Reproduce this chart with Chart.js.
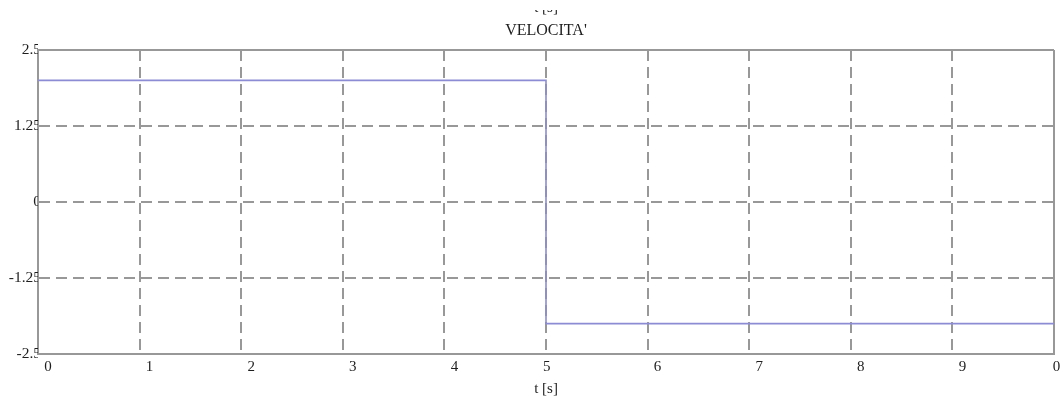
<!DOCTYPE html>
<html>
<head>
<meta charset="utf-8">
<script src="https://cdn.jsdelivr.net/npm/chart.js@4/dist/chart.umd.min.js"></script>
<style>
  html, body { margin: 0; padding: 0; background: #fff; }
  #wrap { width: 1064px; height: 401px; }
</style>
</head>
<body>
<div id="wrap"><canvas id="c" width="1064" height="401"></canvas></div>
<script>
// Velocity profile: constant +2 m/s, then reversal to -2 m/s at t = 5 s
const timeS = [0, 5, 5, 10];
const velocity = [2, 2, -2, -2];

const xTicks = [0, 1, 2, 3, 4, 5, 6, 7, 8, 9, 10];
const xTickText = ['0', '1', '2', '3', '4', '5     ', '6', '7', '8', '9', '0    '];
const yTicks = [-2.5, -1.25, 0, 1.25, 2.5];
const yTickText = ['-2.5', '-1.25', '0', '1.25', '2.5'];

const serif = 'Liberation Serif';
const gridGray = 'rgb(152,152,152)';
const textDark = '#1e1e1e';

// Tail end of the neighbouring plot's axis caption, cut by the page edge
const upperCaption = {
  id: 'upperCaption',
  afterDraw(chart) {
    const { ctx, chartArea } = chart;
    ctx.save();
    ctx.beginPath();
    ctx.rect(0, 10, chart.width, 8);
    ctx.clip();
    ctx.font = '15px "' + serif + '"';
    ctx.fillStyle = textDark;
    ctx.textAlign = 'center';
    ctx.textBaseline = 'alphabetic';
    ctx.fillText('t [s]', (chartArea.left + chartArea.right) / 2, 12);
    ctx.restore();
  }
};

const points = timeS.map((t, i) => ({ x: t, y: velocity[i] }));

const edgeSolid = (min, max) => (ctx) =>
  (ctx.tick && (ctx.tick.value === min || ctx.tick.value === max)) ? [] : [11, 6];

new Chart(document.getElementById('c'), {
  type: 'line',
  data: {
    datasets: [{
      data: points,
      borderColor: 'rgb(140,140,212)',
      borderWidth: 1.6,
      pointRadius: 0,
      fill: false,
      tension: 0
    }]
  },
  options: {
    responsive: false,
    animation: false,
    layout: { padding: { left: 0, right: 10, top: 0, bottom: 0 } },
    plugins: {
      legend: { display: false },
      tooltip: { enabled: false },
      title: {
        display: true,
        text: "VELOCITA'",
        fullSize: false,
        color: textDark,
        font: { family: serif, size: 16, weight: 'normal', lineHeight: 1.2 },
        padding: { top: 21, bottom: 9.8 }
      }
    },
    scales: {
      x: {
        type: 'linear',
        min: 0,
        max: 10,
        afterBuildTicks(scale) { scale.ticks = xTicks.map(v => ({ value: v })); },
        afterFit(scale) { scale.height = 47; scale.paddingLeft = 0; scale.paddingRight = 0; },
        grid: { color: gridGray, lineWidth: 2, drawTicks: false },
        border: { display: true, color: gridGray, width: 2, dash: edgeSolid(0, 10) },
        ticks: {
          autoSkip: false,
          maxRotation: 0,
          padding: 4,
          labelOffset: 10,
          color: textDark,
          font: { family: serif, size: 15 },
          callback: (v) => xTickText[xTicks.indexOf(v)]
        },
        title: {
          display: true,
          text: 't [s]',
          color: textDark,
          font: { family: serif, size: 15, lineHeight: 1.2 },
          padding: { top: 0, bottom: 3 }
        }
      },
      y: {
        type: 'linear',
        min: -2.5,
        max: 2.5,
        afterBuildTicks(scale) { scale.ticks = yTicks.map(v => ({ value: v })); },
        afterFit(scale) { scale.width = 38; },
        grid: { color: gridGray, lineWidth: 2, drawTicks: false },
        border: { display: true, color: gridGray, width: 2, dash: edgeSolid(-2.5, 2.5) },
        ticks: {
          padding: -3,
          color: textDark,
          font: { family: serif, size: 15.5 },
          callback: (v) => yTickText[yTicks.indexOf(v)]
        }
      }
    }
  },
  plugins: [upperCaption]
});
</script>
</body>
</html>
